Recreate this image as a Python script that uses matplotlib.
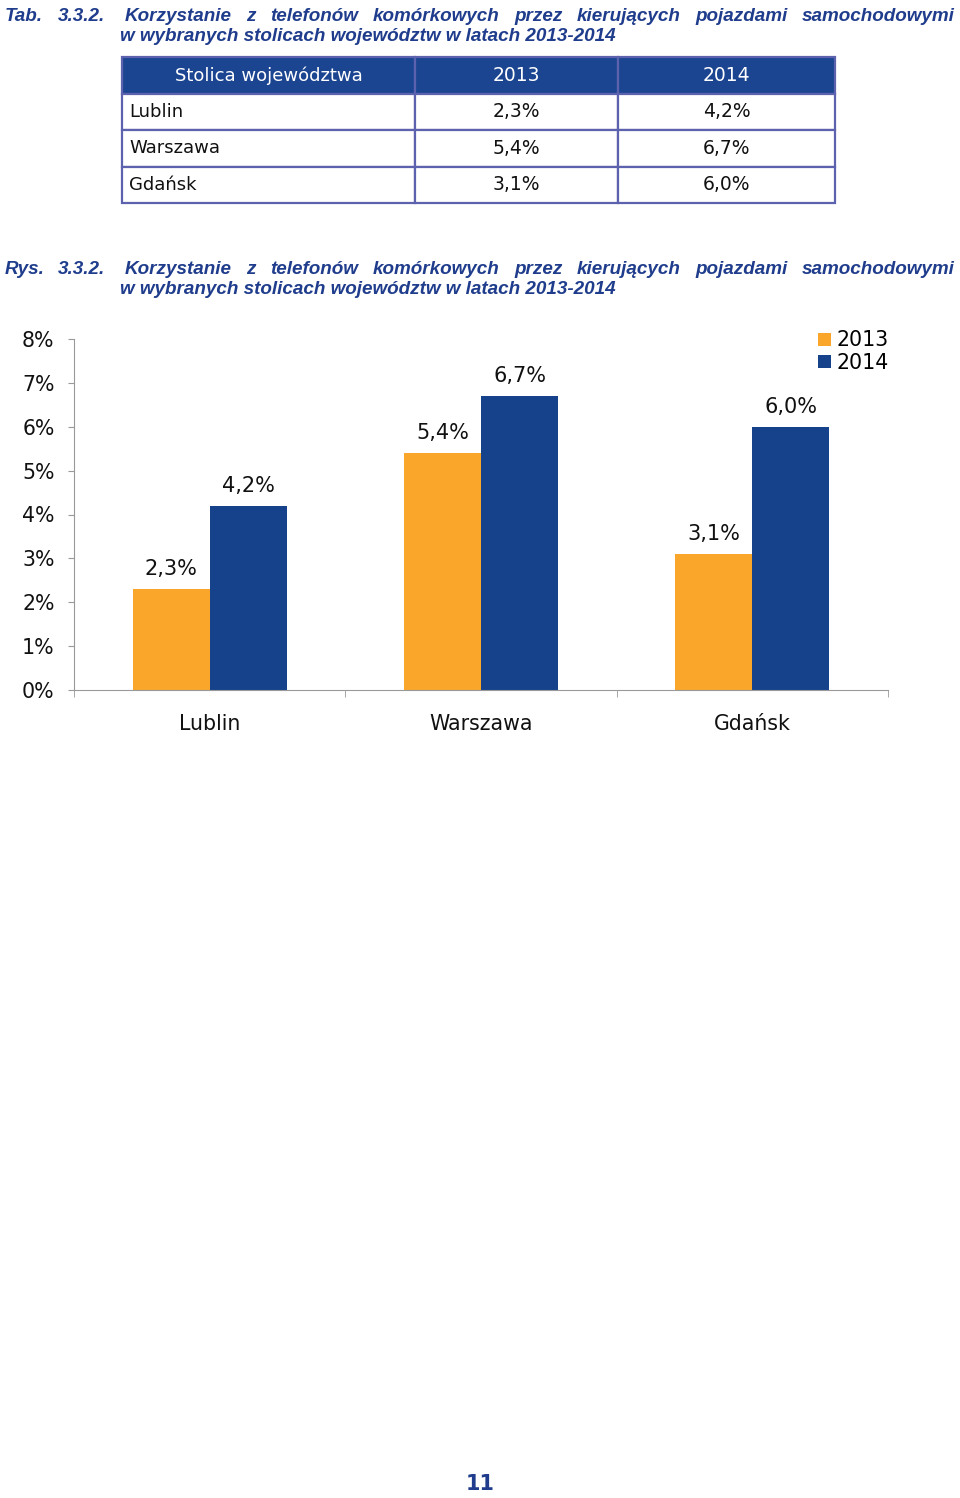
import numpy as np
import matplotlib.pyplot as plt

# data
cities = ['Lublin', 'Warszawa', 'Gdańsk']
years = ['2013', '2014']
v2013 = [2.3, 5.4, 3.1]
v2014 = [4.2, 6.7, 6.0]
yticks = [0, 1, 2, 3, 4, 5, 6, 7, 8]

orange = '#F9A62B'
blue = '#15428B'
title_col = '#1F3D8C'
head_col = '#1B4591'

W, H = 960, 1498
fig = plt.figure(figsize=(W / 100, H / 100), dpi=100)
renderer = fig.canvas.get_renderer()

tfont = dict(family=['Liberation Sans', 'DejaVu Sans'], weight='bold', style='italic',
             size=13.6, color=title_col)


def fx(px):
    return px / W


def fy(py):
    return 1 - py / H


def justified(words, x0, x1, y):
    # lay out words so the line fills x0..x1
    txts = [fig.text(0, fy(y), w, va='baseline', **tfont) for w in words]
    widths = [t.get_window_extent(renderer).width for t in txts]
    gap = (x1 - x0 - sum(widths)) / (len(words) - 1)
    x = x0
    for t, w in zip(txts, widths):
        t.set_x(fx(x))
        x += w + gap


def caption(prefix, y):
    fig.text(fx(5), fy(y), prefix, va='baseline', **tfont)
    fig.text(fx(58), fy(y), '3.3.2.', va='baseline', **tfont)
    justified('Korzystanie z telefonów komórkowych przez kierujących pojazdami samochodowymi'.split(),
              125, 955, y)
    fig.text(fx(120), fy(y + 20), 'w wybranych stolicach województw w latach 2013-2014',
             va='baseline', **tfont)


caption('Tab.', 21)
caption('Rys.', 274)

# table
tax = fig.add_axes([fx(122), fy(203), fx(713), (203 - 57) / H])
tax.axis('off')
cells = [[c, f'{a:.1f}%'.replace('.', ','), f'{b:.1f}%'.replace('.', ',')]
         for c, a, b in zip(cities, v2013, v2014)]
tbl = tax.table(cellText=cells, colLabels=['Stolica województwa'] + years,
                colWidths=[293, 203, 217], bbox=[0, 0, 1, 1])
tbl.auto_set_font_size(False)
for (r, c), cell in tbl.get_celld().items():
    cell.set_edgecolor('#5C62AE')
    cell.set_linewidth(1.6)
    cell.get_text().set_fontsize(13.5 if c > 0 else 13)
    cell.get_text().set_color('#111111')
    if r == 0:
        cell.set_facecolor(head_col)
        cell.get_text().set_color('white')
        cell.get_text().set_ha('center')
    elif c == 0:
        cell.get_text().set_ha('left')
        cell._loc = 'left'
        cell.PAD = 0.025
    else:
        cell.get_text().set_ha('center')

# chart
ax = fig.add_axes([fx(74), fy(690), fx(888 - 74), (690 - 339) / H])
x = np.arange(len(cities))
bw = 0.284
b1 = ax.bar(x - bw / 2, v2013, bw, color=orange, label=years[0])
b2 = ax.bar(x + bw / 2, v2014, bw, color=blue, label=years[1])
for bars, vals in ((b1, v2013), (b2, v2014)):
    for r, v in zip(bars, vals):
        ax.annotate(f'{v:.1f}%'.replace('.', ','), (r.get_x() + r.get_width() / 2, v),
                    xytext=(0, 7), textcoords='offset points', ha='center', va='bottom',
                    fontsize=15, color='#111111')

ax.set_xlim(-0.5, 2.5)
ax.set_ylim(0, 8)
ax.set_yticks(yticks)
ax.set_yticklabels([f'{t}%' for t in yticks], fontsize=14.8, color='#111111')
ax.set_xticks(x)
ax.set_xticklabels(cities, fontsize=14.8, color='#111111')
ax.set_xticks([-0.5, 0.5, 1.5, 2.5], minor=True)
ax.tick_params(axis='x', which='major', length=0, pad=17)
ax.tick_params(axis='x', which='minor', length=5, color='#999999', direction='out')
ax.tick_params(axis='y', length=4.5, color='#999999', pad=9.5)
for s in ['top', 'right']:
    ax.spines[s].set_visible(False)
for s in ['left', 'bottom']:
    ax.spines[s].set_color('#999999')

ax.legend(loc='upper left', bbox_to_anchor=(fx(808), fy(320)), bbox_transform=fig.transFigure,
          frameon=False, fontsize=14.8, handlelength=0.6, handleheight=0.6,
          handletextpad=0.3, labelspacing=0.12, borderpad=0)

fig.text(0.5, fy(1490), '11', ha='center', va='baseline', fontsize=15, weight='bold', color=title_col)

fig.savefig('out.png', dpi=100)
